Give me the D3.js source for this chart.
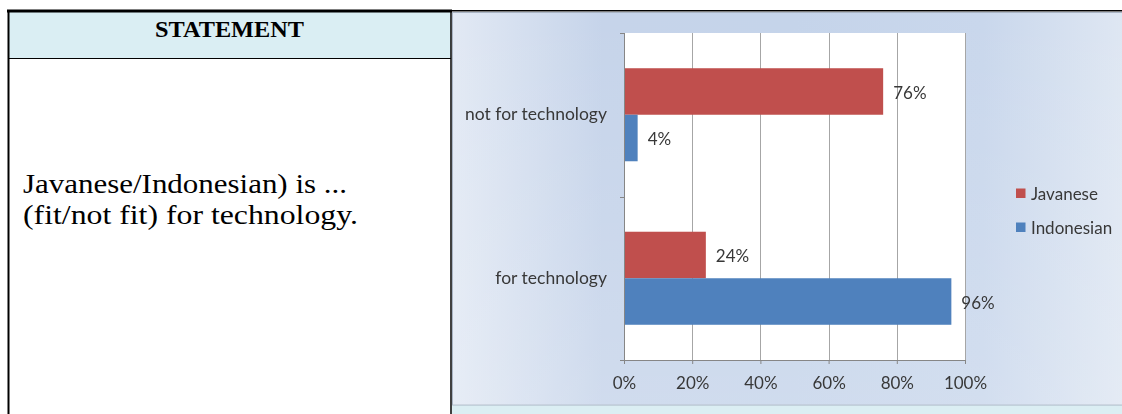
<!DOCTYPE html>
<html>
<head>
<meta charset="utf-8">
<script src="https://cdn.jsdelivr.net/npm/d3@7"></script>
<style>
  html, body { margin: 0; padding: 0; background: #ffffff; }
  svg { display: block; }
</style>
</head>
<body>
<svg id="page" width="1122" height="414"></svg>
<script>
// Survey answers: is the language fit for technology?
const categories = ["not for technology", "for technology"];
const seriesNames = ["Javanese", "Indonesian"];
const javanese = [76, 24];
const indonesian = [4, 96];
const xTicks = [0, 20, 40, 60, 80, 100];
const seriesColors = ["#c0504d", "#4f81bd"];

const headerText = "STATEMENT";
const statementLines = ["Javanese/Indonesian) is ...", "(fit/not fit) for technology."];

const svg = d3.select("#page");
const W = 1122, H = 414;

// ---------- table (left cell + frame) ----------
const table = svg.append("g");
table.append("rect").attr("x", 8).attr("y", 11).attr("width", 443).attr("height", 47)
  .attr("fill", "#daeef3");
table.append("rect").attr("x", 452).attr("y", 405).attr("width", W - 452).attr("height", H - 405)
  .attr("fill", "#dbeef3");

table.append("text")
  .attr("x", 229.5).attr("y", 37)
  .attr("text-anchor", "middle")
  .attr("font-family", "'Liberation Serif', 'Times New Roman', serif")
  .attr("font-weight", "bold")
  .attr("font-size", 23.5)
  .attr("textLength", 149).attr("lengthAdjust", "spacingAndGlyphs")
  .attr("fill", "#000")
  .text(headerText);

const lineLengths = [324, 335];
table.selectAll("text.stmt").data(statementLines).join("text")
  .attr("class", "stmt")
  .attr("x", 23)
  .attr("y", (d, i) => 193 + i * 31)
  .attr("font-family", "'Liberation Serif', 'Times New Roman', serif")
  .attr("font-size", 27)
  .attr("textLength", (d, i) => lineLengths[i]).attr("lengthAdjust", "spacingAndGlyphs")
  .attr("fill", "#000")
  .text(d => d);

// ---------- chart ----------
const defs = svg.append("defs");
const bg = defs.append("linearGradient").attr("id", "chartBg")
  .attr("x1", "0").attr("y1", "0").attr("x2", "1").attr("y2", "0");
[[0, "#e2e9f4"], [0.22, "#c6d4ea"], [0.5, "#c5d4ea"], [0.78, "#c9d7ec"], [1, "#e0e8f3"]]
  .forEach(([o, c]) => bg.append("stop").attr("offset", o).attr("stop-color", c));
const bgV = defs.append("linearGradient").attr("id", "chartHaze")
  .attr("x1", "0").attr("y1", "0").attr("x2", "0").attr("y2", "1");
bgV.append("stop").attr("offset", 0).attr("stop-color", "#ffffff").attr("stop-opacity", 0);
bgV.append("stop").attr("offset", 1).attr("stop-color", "#ffffff").attr("stop-opacity", 0.18);
defs.append("filter").attr("id", "soft").attr("x", "-1%").attr("y", "-1%").attr("width", "102%").attr("height", "102%")
  .append("feGaussianBlur").attr("stdDeviation", 0.55);

const chart = svg.append("g").attr("filter", "url(#soft)");
chart.append("rect").attr("x", 452.5).attr("y", 12.5).attr("width", 680).attr("height", 392.5)
  .attr("fill", "url(#chartBg)").attr("stroke", "#a9b4c4").attr("stroke-width", 1);
chart.append("rect").attr("x", 453).attr("y", 13).attr("width", 680).attr("height", 392)
  .attr("fill", "url(#chartHaze)");

const plot = { left: 624, right: 965, top: 33, bottom: 360 };
const x = d3.scaleLinear().domain([0, 100]).range([plot.left, plot.right]);
const y = d3.scaleBand().domain(categories).range([plot.top, plot.bottom])
  .paddingInner(0.431).paddingOuter(0.2155);
const ys = d3.scaleBand().domain(seriesNames).range([0, y.bandwidth()]);
const color = d3.scaleOrdinal().domain(seriesNames).range(seriesColors);

chart.append("rect")
  .attr("x", plot.left).attr("y", plot.top)
  .attr("width", plot.right - plot.left).attr("height", plot.bottom - plot.top)
  .attr("fill", "#ffffff");

// vertical gridlines
chart.append("g").selectAll("line").data(xTicks.filter(d => d > 0)).join("line")
  .attr("x1", d => Math.round(x(d)) + 0.5).attr("x2", d => Math.round(x(d)) + 0.5)
  .attr("y1", plot.top).attr("y2", plot.bottom)
  .attr("stroke", "#a6a6a6").attr("stroke-width", 1);

const textColor = "#383838";
const chartFont = "Lato, 'Open Sans', sans-serif";
const fontSize = 17;

// bars
const rows = categories.map((c, i) => ({ category: c, values: [
  { series: seriesNames[0], value: javanese[i] },
  { series: seriesNames[1], value: indonesian[i] }
]}));

const groups = chart.append("g").selectAll("g").data(rows).join("g")
  .attr("transform", d => `translate(0,${y(d.category)})`);

groups.selectAll("rect").data(d => d.values).join("rect")
  .attr("x", x(0))
  .attr("y", d => ys(d.series))
  .attr("width", d => x(d.value) - x(0))
  .attr("height", ys.bandwidth())
  .attr("fill", d => color(d.series));

groups.selectAll("text").data(d => d.values).join("text")
  .attr("x", d => x(d.value) + 10)
  .attr("y", d => ys(d.series) + ys.bandwidth() / 2 + 1)
  .attr("dominant-baseline", "central")
  .attr("font-family", chartFont).attr("font-size", fontSize)
  .attr("fill", textColor)
  .text(d => d.value + "%");

// x axis
const xAxis = chart.append("g")
  .attr("transform", `translate(0,${plot.bottom})`)
  .call(d3.axisBottom(x).tickValues(xTicks).tickFormat(d => d + "%")
    .tickSize(4).tickSizeOuter(0).tickPadding(13));
xAxis.select(".domain").attr("stroke", "#868686").attr("d", `M${plot.left - 4},0.5H${plot.right}`);
xAxis.selectAll(".tick line").attr("stroke", "#868686");
xAxis.selectAll(".tick text").attr("font-family", chartFont).attr("font-size", fontSize)
  .attr("fill", textColor);

// y axis: category labels centred on bands, tick marks at band boundaries
const yAxis = chart.append("g")
  .attr("transform", `translate(${plot.left},0)`)
  .call(d3.axisLeft(y).tickSize(0).tickPadding(17));
yAxis.select(".domain").remove();
yAxis.selectAll(".tick text").attr("font-family", chartFont).attr("font-size", 17.5)
  .attr("fill", textColor);

const boundaries = d3.range(categories.length + 1).map(i => plot.top + i * (plot.bottom - plot.top) / categories.length);
chart.append("line")
  .attr("x1", plot.left + 0.5).attr("x2", plot.left + 0.5)
  .attr("y1", plot.top).attr("y2", plot.bottom)
  .attr("stroke", "#868686");
chart.append("g").selectAll("line").data(boundaries).join("line")
  .attr("x1", plot.left - 4).attr("x2", plot.left)
  .attr("y1", d => Math.round(d) + 0.5).attr("y2", d => Math.round(d) + 0.5)
  .attr("stroke", "#868686");

// legend
const legend = chart.append("g").attr("transform", "translate(1016,193)");
const items = legend.selectAll("g").data(seriesNames).join("g")
  .attr("transform", (d, i) => `translate(0,${i * 34})`);
items.append("rect").attr("x", 0).attr("y", -4.5).attr("width", 9.5).attr("height", 9.5)
  .attr("fill", d => color(d));
items.append("text").attr("x", 15).attr("y", 0)
  .attr("dominant-baseline", "central")
  .attr("font-family", chartFont).attr("font-size", fontSize)
  .attr("fill", textColor)
  .text(d => d);

// ---------- table rules ----------
const rules = svg.append("g").attr("stroke", "#000");
rules.append("line").attr("x1", 7).attr("x2", 452).attr("y1", 11).attr("y2", 11).attr("stroke-width", 3);
rules.append("line").attr("x1", 452).attr("x2", W).attr("y1", 10.75).attr("y2", 10.75).attr("stroke-width", 1.5);
rules.append("line").attr("x1", 8.5).attr("x2", 8.5).attr("y1", 10).attr("y2", H).attr("stroke-width", 2);
rules.append("line").attr("x1", 451).attr("x2", 451).attr("y1", 10).attr("y2", H).attr("stroke-width", 1.5);
rules.append("line").attr("x1", 8).attr("x2", 451).attr("y1", 58.5).attr("y2", 58.5).attr("stroke-width", 1);
</script>
</body>
</html>
